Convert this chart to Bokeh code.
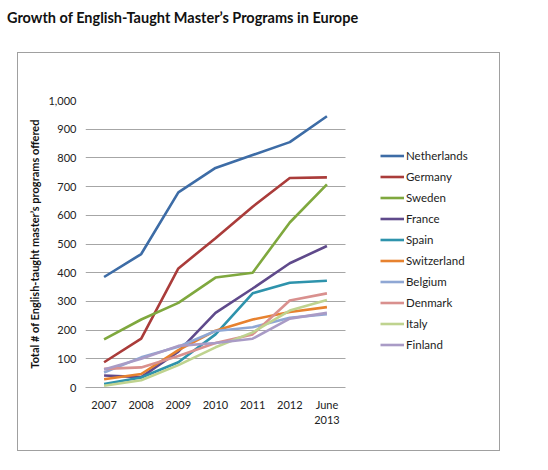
from bokeh.plotting import figure
from bokeh.layouts import column
from bokeh.models import (Range1d, Legend, LegendItem, Div, BoxAnnotation,
                          NumeralTickFormatter, FixedTicker)
from bokeh.embed import file_html
from bokeh.resources import INLINE

years = ["2007", "2008", "2009", "2010", "2011", "2012", "June\n2013"]
countries = ["Netherlands", "Germany", "Sweden", "France", "Spain",
             "Switzerland", "Belgium", "Denmark", "Italy", "Finland"]
netherlands = [385, 465, 680, 765, 810, 855, 945]
germany = [88, 170, 415, 520, 630, 730, 732]
sweden = [168, 237, 295, 383, 400, 575, 708]
france = [42, 36, 125, 260, 345, 433, 493]
spain = [12, 35, 88, 185, 328, 365, 372]
switzerland = [29, 47, 130, 198, 237, 263, 280]
belgium = [52, 105, 142, 197, 210, 243, 255]
denmark = [65, 70, 110, 155, 185, 303, 328]
italy = [6, 25, 78, 140, 192, 268, 305]
finland = [63, 100, 145, 155, 170, 240, 260]
y_ticks = [0, 100, 200, 300, 400, 500, 600, 700, 800, 900, 1000]

series = [netherlands, germany, sweden, france, spain,
          switzerland, belgium, denmark, italy, finland]
colors = ["#3D6CA6", "#AA3C3A", "#7FA83E", "#5F4A8B", "#2E93AC",
          "#E7822F", "#8FA7D4", "#D9908E", "#BFD38F", "#A99BC6"]

FONT = "Lato"
xs = list(range(len(years)))

FIG_W, FIG_H = 481, 397
BORDER_L = 67
PLOT_W = 260  # width of the category area in px
frame_w = FIG_W - BORDER_L
x_start = -0.5
x_end = x_start + frame_w * len(years) / PLOT_W
data_end = len(years) - 0.5

title = Div(text="Growth of English-Taught Master\u2019s Programs in Europe",
            width=520, height=45, margin=(8, 0, 0, 7),
            styles={"font-family": FONT, "font-size": "14.5px",
                    "font-weight": "bold", "color": "#111111",
                    "line-height": "20px"})

p = figure(width=FIG_W, height=FIG_H, output_backend="svg",
           toolbar_location=None,
           x_range=Range1d(x_start, x_end), y_range=Range1d(0, 1000),
           min_border_left=BORDER_L, min_border_right=0, min_border_top=47,
           min_border_bottom=63, margin=(0, 0, 0, 18),
           styles={"outline": "1px solid #A0A0A0"})
p.outline_line_color = None
p.background_fill_color = "white"
p.border_fill_color = "white"

# grid
p.xgrid.grid_line_color = None
p.ygrid.grid_line_color = "#A6A6A6"
p.ygrid.grid_line_width = 1
p.ygrid.ticker = FixedTicker(ticks=y_ticks)
try:
    p.ygrid.cross_bounds = (x_start, data_end)
except Exception:
    mask = BoxAnnotation(left=data_end, fill_color="white", fill_alpha=1,
                         line_alpha=0)
    p.add_layout(mask)

items = []
for name, vals, col in zip(countries, series, colors):
    r = p.line(xs, vals, line_color=col, line_width=2.6)
    items.append(LegendItem(label=name, renderers=[r]))

# y axis
p.yaxis.ticker = FixedTicker(ticks=y_ticks)
p.yaxis.formatter = NumeralTickFormatter(format="0,0")
p.yaxis.axis_line_color = None
p.yaxis.major_tick_line_color = None
p.yaxis.minor_tick_line_color = None
p.yaxis.major_tick_out = 0
p.yaxis.major_label_standoff = 9
p.yaxis.major_label_text_font = FONT
p.yaxis.major_label_text_font_size = "11px"
p.yaxis.major_label_text_color = "#222222"
p.yaxis.axis_label = "Total # of English-taught master\u2019s programs offered"
p.yaxis.axis_label_text_font = FONT
p.yaxis.axis_label_text_font_size = "11px"
p.yaxis.axis_label_text_font_style = "bold"
p.yaxis.axis_label_text_color = "#111111"
p.yaxis.axis_label_standoff = 4

# x axis
p.xaxis.ticker = FixedTicker(ticks=xs)
p.xaxis.bounds = (x_start, data_end)
p.xaxis.major_label_overrides = {i: y for i, y in enumerate(years)}
p.xaxis.axis_line_color = "#A6A6A6"
p.xaxis.major_tick_line_color = None
p.xaxis.minor_tick_line_color = None
p.xaxis.major_tick_out = 0
p.xaxis.major_label_standoff = 10
p.xaxis.major_label_text_font = FONT
p.xaxis.major_label_text_font_size = "11px"
p.xaxis.major_label_text_color = "#222222"

legend = Legend(items=items, location=(295, 32),
                glyph_width=24, glyph_height=21, label_height=21,
                spacing=0, padding=0, margin=0, label_standoff=2,
                label_text_font=FONT, label_text_font_size="11.5px",
                label_text_color="#222222",
                border_line_alpha=0, background_fill_alpha=0)
p.add_layout(legend, "center")

layout = column(title, p)
open("out.html", "w").write(file_html(layout, INLINE))
